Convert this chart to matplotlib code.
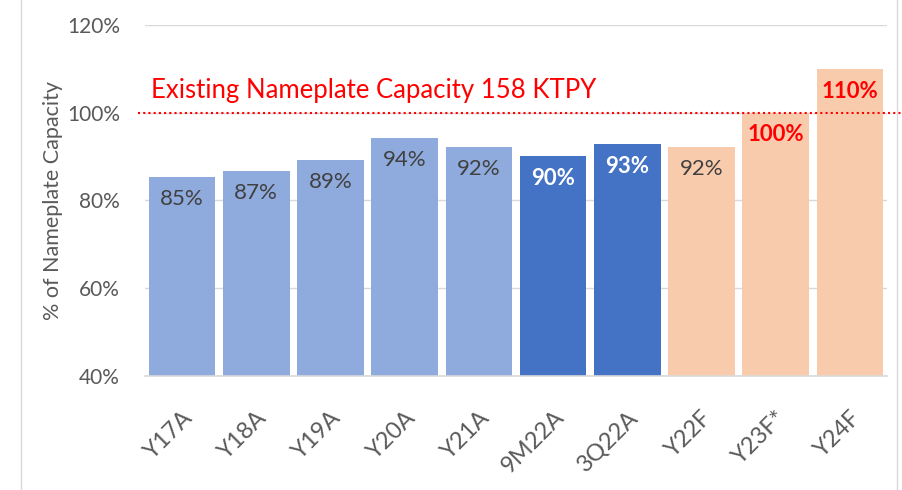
import matplotlib.pyplot as plt
from matplotlib.lines import Line2D

# data
categories = ["Y17A", "Y18A", "Y19A", "Y20A", "Y21A", "9M22A", "3Q22A", "Y22F", "Y23F*", "Y24F"]
values = [85.3, 86.7, 89.2, 94.2, 92.2, 90.1, 92.8, 92.2, 100, 110]
labels = ["85%", "87%", "89%", "94%", "92%", "90%", "93%", "92%", "100%", "110%"]
groups = ["hist", "hist", "hist", "hist", "hist", "ytd", "ytd", "fcst", "fcst", "fcst"]
yticks = [40, 60, 80, 100, 120]
capacity_text = "Existing Nameplate Capacity 158 KTPY"

bar_colors = {"hist": "#8FAADC", "ytd": "#4472C4", "fcst": "#F8CBAD"}
GRAY = "#595959"
RED = "#FF0000"

plt.rcParams['font.family'] = ['Lato', 'DejaVu Sans']

fig = plt.figure(figsize=(9.03, 4.9), dpi=100)
ax = fig.add_axes([145 / 903, 1 - 376 / 490, 742 / 903, 351 / 490])

x = range(len(categories))
ax.bar(x, [v - 40 for v in values], bottom=40, width=0.9,
       color=[bar_colors[g] for g in groups], zorder=2)

for i, (v, lab) in enumerate(zip(values, labels)):
    if groups[i] == "ytd":
        c, w = "white", "bold"
    elif v >= 100:
        c, w = RED, "bold"
    else:
        c, w = "#404040", "normal"
    ax.annotate(lab, (i, v), xytext=(0, -16), textcoords="offset points",
                ha="center", va="center", fontsize=16, color=c, fontweight=w, zorder=4)

# capacity line
ax.axhline(100, xmin=-0.01, xmax=1.02, color=RED, linestyle=(0, (1, 1.5)),
           linewidth=1.5, clip_on=False, zorder=3)
ax.text(-0.42, 105, capacity_text, color=RED, fontsize=18.5, ha="left", va="center")

ax.set_xlim(-0.5, len(categories) - 0.5)
ax.set_ylim(40, 120)
ax.set_yticks(yticks)
ax.set_yticklabels([f"{t}%" for t in yticks], color=GRAY, fontsize=15)
ax.set_xticks(list(x))
ax.set_xticklabels(categories, rotation=45, ha="right", rotation_mode="anchor",
                   color=GRAY, fontsize=17)
ax.tick_params(axis="both", length=0)
ax.tick_params(axis="y", pad=18)
ax.tick_params(axis="x", pad=22)
ax.grid(axis="y", color="#D9D9D9", linewidth=1, zorder=0)
for s in ["top", "right", "left"]:
    ax.spines[s].set_visible(False)
ax.spines["bottom"].set_color("#D9D9D9")
ax.spines["bottom"].set_linewidth(1.2)

ax.set_ylabel("% of Nameplate Capacity", color=GRAY, fontsize=15.5, labelpad=3)

# frame lines of the screenshot
fig.add_artist(Line2D([21 / 903, 21 / 903], [0, 1], color="#D9D9D9", linewidth=1))
fig.add_artist(Line2D([897 / 903, 897 / 903], [0, 1], color="#D9D9D9", linewidth=1))

fig.savefig("out.png", dpi=100)
